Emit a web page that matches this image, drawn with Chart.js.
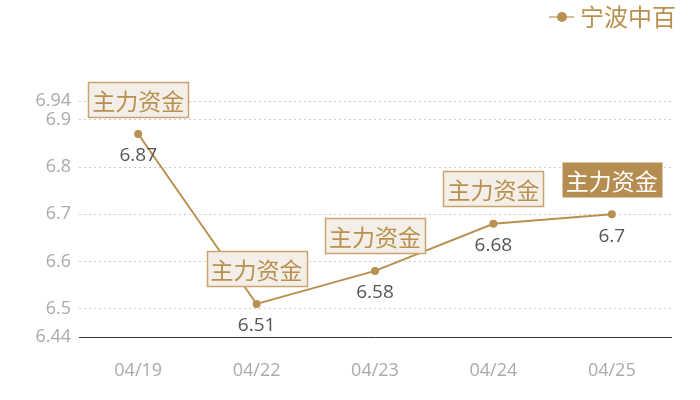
<!DOCTYPE html>
<html><head><meta charset="utf-8">
<script src="https://cdn.jsdelivr.net/npm/chart.js@4"></script>
<style>html,body{margin:0;padding:0;background:#fff}#wrap{width:700px;height:400px}</style>
</head><body><div id="wrap"><canvas id="c"></canvas></div>
<script>
const categories = ["04/19","04/22","04/23","04/24","04/25"];
const values = [6.87, 6.51, 6.58, 6.68, 6.7];
const seriesName = "宁波中百";
const tagTexts = ["主力资金","主力资金","主力资金","主力资金","主力资金"];
const tagHighlighted = [false,false,false,false,true];
const yTicks = [6.44, 6.5, 6.6, 6.7, 6.8, 6.9, 6.94];

const GOLD = "#b8904f";
const CJK = '"Noto Sans CJK SC", "Noto Sans", sans-serif';
const NUM = '"Open Sans", "Noto Sans", sans-serif';

const tagPlugin = {
  id: 'tags',
  afterDatasetsDraw(chart) {
    const ctx = chart.ctx;
    const meta = chart.getDatasetMeta(0);
    ctx.save();
    meta.data.forEach((pt, i) => {
      const x = pt.x, y = pt.y;
      ctx.font = '19px ' + NUM;
      ctx.fillStyle = '#555';
      ctx.textAlign = 'center';
      ctx.textBaseline = 'middle';
      ctx.fillText(String(values[i]), x, y + 22);
      ctx.font = '23px ' + CJK;
      const w = ctx.measureText(tagTexts[i]).width + 8;
      const h = 35;
      const bx = Math.round(x - w / 2) + 0.5, by = Math.round(y - 35 - h / 2) + 0.5;
      if (tagHighlighted[i]) {
        ctx.fillStyle = '#b58d50';
        ctx.fillRect(bx, by, w, h);
        ctx.fillStyle = '#fff';
      } else {
        ctx.fillStyle = '#f3eee7';
        ctx.fillRect(bx, by, w, h);
        ctx.strokeStyle = '#c9a46c';
        ctx.lineWidth = 1.5;
        ctx.strokeRect(bx, by, w, h);
        ctx.fillStyle = GOLD;
      }
      ctx.fillText(tagTexts[i], x, by + h / 2 + 1);
    });
    ctx.strokeStyle = '#d6be96';
    ctx.lineWidth = 2;
    ctx.beginPath(); ctx.moveTo(549, 17); ctx.lineTo(574, 17); ctx.stroke();
    ctx.fillStyle = GOLD;
    ctx.beginPath(); ctx.arc(562, 17, 5, 0, Math.PI * 2); ctx.fill();
    ctx.font = '24px ' + CJK;
    ctx.textAlign = 'left';
    ctx.textBaseline = 'middle';
    ctx.fillText(seriesName, 580, 17);
    ctx.restore();
  }
};

new Chart(document.getElementById('c'), {
  type: 'line',
  data: {
    labels: categories,
    datasets: [{
      label: seriesName,
      data: values,
      borderColor: GOLD,
      backgroundColor: GOLD,
      borderWidth: 2,
      pointRadius: 4,
      pointHoverRadius: 4,
      pointBackgroundColor: GOLD,
      pointBorderWidth: 0,
      tension: 0
    }]
  },
  options: {
    responsive: true,
    maintainAspectRatio: false,
    animation: false,
    layout: { padding: { top: 101, right: 29, left: 0, bottom: 0 } },
    plugins: { legend: { display: false }, tooltip: { enabled: false } },
    scales: {
      x: {
        offset: true,
        grid: { display: false, drawTicks: false },
        border: { display: true, color: '#333', width: 1 },
        ticks: { color: '#aaa', font: { size: 18, family: NUM }, padding: 23 },
        afterFit(s) { s.height = 63; }
      },
      y: {
        min: 6.44, max: 6.94,
        afterBuildTicks(s) { s.ticks = yTicks.map(v => ({ value: v })); },
        grid: {
          drawTicks: false,
          color: (c) => c.tick && c.tick.value === 6.44 ? 'rgba(0,0,0,0)' : '#ccc',
          tickBorderDash: [2, 3]
        },
        border: { display: false, dash: [2, 3] },
        ticks: { color: '#aaa', font: { size: 18, family: NUM }, padding: 8, autoSkip: false,
          callback: (v) => String(v) },
        afterFit(s) { s.width = 79; }
      }
    }
  },
  plugins: [tagPlugin]
});
</script></body></html>
